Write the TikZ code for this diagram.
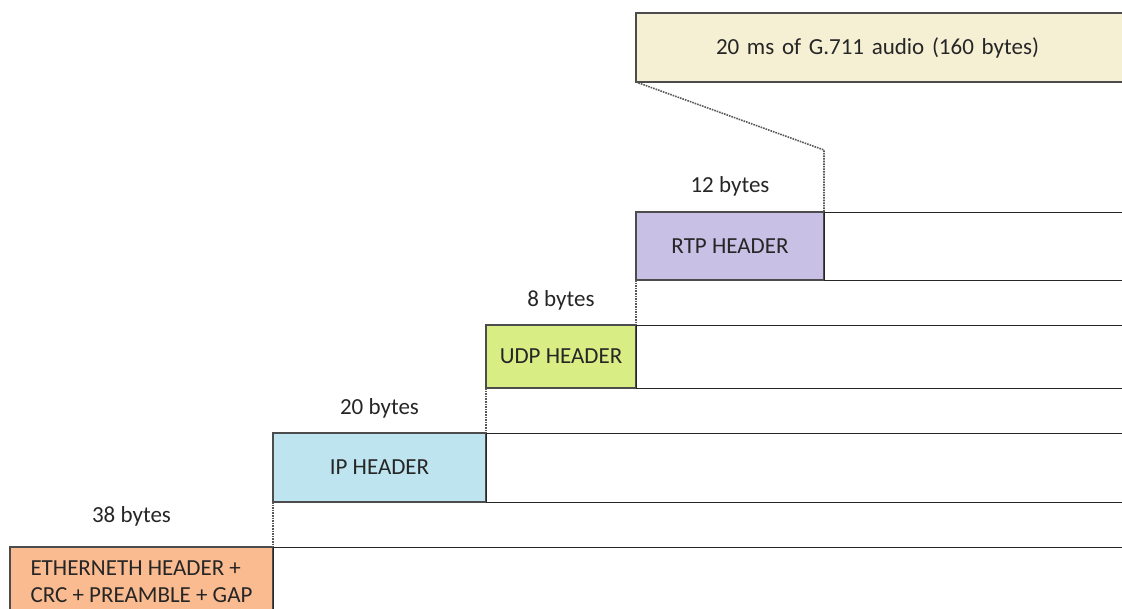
\documentclass[tikz,border=0pt]{standalone}
\usepackage{fontspec}
\setmainfont{Carlito}
\usetikzlibrary{positioning}
\definecolor{audiofill}{HTML}{F5EFD3}
\definecolor{rtpfill}{HTML}{C9C0E5}
\definecolor{udpfill}{HTML}{D8EE85}
\definecolor{ipfill}{HTML}{BEE5EF}
\definecolor{ethfill}{HTML}{FBBB90}
\tikzset{
  hdr/.style={draw=black!70,line width=1.2pt,inner sep=0pt,outer sep=0pt,anchor=north west,align=center},
  payload/.style={draw=black!85,line width=1pt,inner sep=0pt,outer sep=0pt,anchor=north west,minimum width=1200pt},
  bytelabel/.style={inner sep=0pt},
  guide/.style={densely dotted,draw=black!65,line width=1.6pt},
}

\begin{document}
\begin{tikzpicture}[x=1pt,y=-1pt,every node/.style={font=\fontsize{23}{27}\selectfont,text=black!85}]
  \useasboundingbox (0,0) rectangle (1122,608);
  \clip (0,0) rectangle (1122,608);
  % payload on top
  \node[hdr,fill=audiofill,minimum width=600pt,minimum height=69pt,
        text width=440pt,inner xsep=80pt,align=left] (audio) at (636,13) {20 ms of G.711 audio (160 bytes)};
  % header stack
  \node[hdr,fill=rtpfill,minimum width=188pt,minimum height=68pt] (rtp) at (636,212) {RTP HEADER};
  \node[hdr,fill=udpfill,minimum width=150pt,minimum height=63pt] (udp) at (486,325) {UDP HEADER};
  \node[hdr,fill=ipfill,minimum width=213pt,minimum height=69pt] (ip) at (273,433) {IP HEADER};
  \node[hdr,fill=ethfill,minimum width=263pt,minimum height=70pt,align=left] (eth) at (10,547) {ETHERNETH HEADER +\\CRC + PREAMBLE + GAP};
  % rest of each frame
  \node[payload,minimum height=68pt] (rtpdata) at (rtp.north east) {};
  \node[payload,minimum height=63pt] (udpdata) at (udp.north east) {};
  \node[payload,minimum height=69pt] (ipdata) at (ip.north east) {};
  \node[payload,minimum height=70pt] (ethdata) at (eth.north east) {};
  % sizes
  \node[bytelabel,above=16pt of rtp.north] (rtpsize) {12 bytes};
  \node[bytelabel,above=15pt of udp.north] (udpsize) {8 bytes};
  \node[bytelabel,above=15pt of ip.north] (ipsize) {20 bytes};
  \node[bytelabel,above=21pt of eth.north,xshift=-10pt] (ethsize) {38 bytes};
  % dotted guides
  \coordinate (bend) at (rtp.north east |- 0,150);
  \draw[guide] (audio.south west) -- (bend) -- (rtp.north east);
  \draw[guide] (rtp.south west) -- (udp.north east);
  \draw[guide] (udp.south west) -- (ip.north east);
  \draw[guide] (ip.south west) -- (eth.north east);
\end{tikzpicture}
\end{document}
